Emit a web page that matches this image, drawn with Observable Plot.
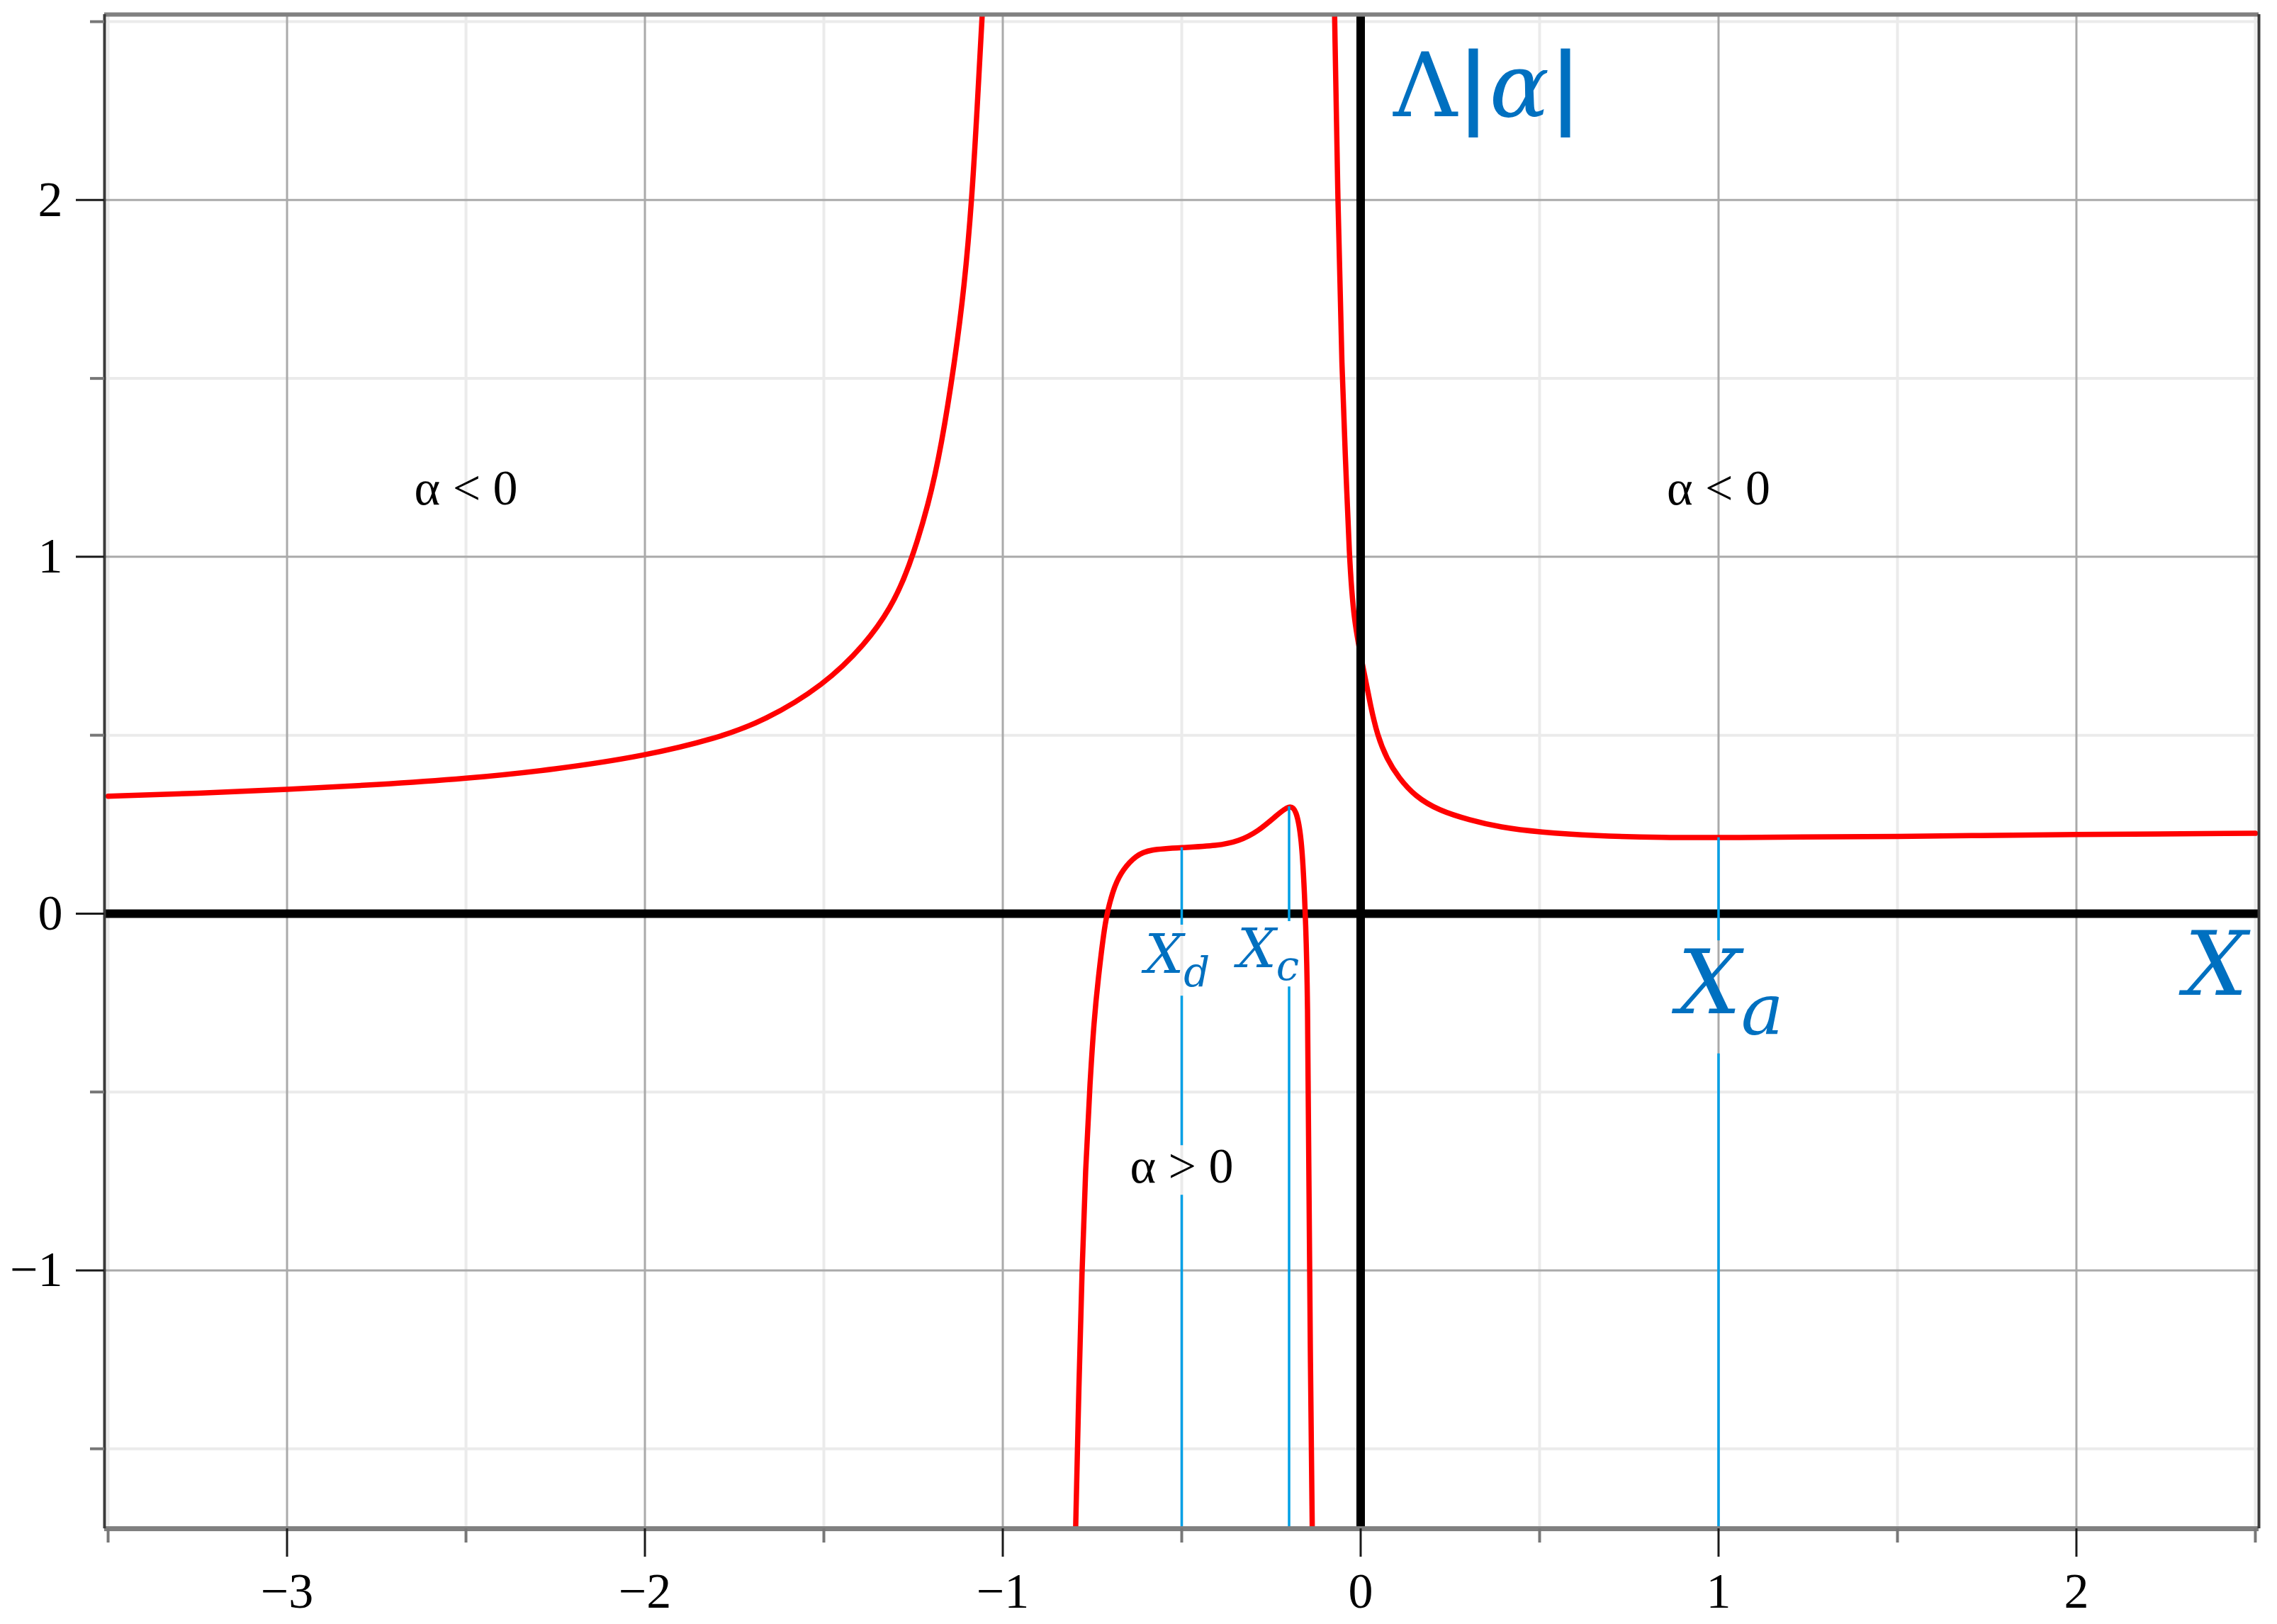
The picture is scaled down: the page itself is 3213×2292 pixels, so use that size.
<!DOCTYPE html>
<html><head><meta charset="utf-8">
<script src="https://cdn.jsdelivr.net/npm/d3@7"></script>
<script src="https://cdn.jsdelivr.net/npm/@observablehq/plot@0.6"></script>
<style>
html,body{margin:0;padding:0;background:#fff;}
#chart{width:3213px;height:2292px;}
</style></head>
<body><div id="chart"></div>
<script>
// ---- data ----
const leftX  = [-3.5, -3.25, -3.0, -2.75, -2.5, -2.25, -2.0, -1.8, -1.666, -1.5, -1.384, -1.313, -1.263, -1.206, -1.171, -1.136, -1.107, -1.086, -1.072, -1.057];
const leftY  = [0.329, 0.337, 0.348, 0.361, 0.378, 0.404, 0.442, 0.491, 0.540, 0.640, 0.755, 0.856, 0.965, 1.15, 1.315, 1.535, 1.759, 2.007, 2.25, 2.53];

const midX = [-0.797, -0.787, -0.779, -0.769, -0.756, -0.745, -0.734, -0.715, -0.703, -0.688, -0.665, -0.628, -0.590, -0.5, -0.400, -0.340, -0.287, -0.234, -0.2, -0.180, -0.165, -0.158, -0.154, -0.148, -0.145, -0.141, -0.135];
const midY = [-1.75, -1.307, -1.011, -0.715, -0.467, -0.300, -0.187, -0.028, 0.024, 0.077, 0.123, 0.163, 0.180, 0.185, 0.190, 0.203, 0.230, 0.276, 0.304, 0.294, 0.210, 0.077, -0.015, -0.22, -0.715, -1.21, -1.75];

const rightX = [-0.073, -0.064, -0.052, -0.042, -0.032, -0.020, 0.012, 0.027, 0.047, 0.073, 0.106, 0.152, 0.218, 0.305, 0.389, 0.5, 0.653, 0.851, 1.0, 1.5, 2.0, 2.5];
const rightY = [2.53, 2.0, 1.5, 1.268, 1.005, 0.82, 0.665, 0.585, 0.498, 0.434, 0.381, 0.329, 0.289, 0.262, 0.242, 0.228, 0.218, 0.213, 0.213, 0.216, 0.222, 0.225];

const xMajorTicks = [-3, -2, -1, 0, 1, 2];
const xMinorTicks = [-3.5, -2.5, -1.5, -0.5, 0.5, 1.5, 2.5];
const yMajorTicks = [-1, 0, 1, 2];
const yMinorTicks = [-1.5, -0.5, 0.5, 1.5, 2.5];
const xDomain = [-3.51, 2.51];
const yDomain = [-1.724, 2.52];

// vertical guide segments (blue), interrupted where the labels sit
const guideX      = [-0.5, -0.5, -0.5, -0.2, -0.2, 1, 1];
const guideTop    = [0.185, -0.231, -0.789, 0.300, -0.205, 0.213, -0.393];
const guideBottom = [-0.032, -0.650, -1.724, -0.022, -1.724, -0.076, -1.724];

const markerNames = ["d", "c", "a"];
const markerX = [-0.5, -0.2, 1];

const regionText = ["α < 0", "α < 0", "α > 0"];
const regionX = [-2.5, 1, -0.5];
const regionY = [1.146, 1.146, -0.753];

const xAxisName = "X";
const yAxisName = "Λ|α|";

// ---- build ----
const pts = (xs, ys) => xs.map((x, i) => ({x, y: ys[i]}));
const guides = guideX.map((x, i) => ({x, y1: guideTop[i], y2: guideBottom[i]}));
const regions = regionText.map((t, i) => ({t, x: regionX[i], y: regionY[i]}));

const RED = "#ff0000", BLUE_LINE = "#00a0e6", BLUE_TEXT = "#0070c0";
const serif = "Liberation Serif", math = "DejaVu Serif";
const fmt = d3.format("d");
const curveOpts = {x: "x", y: "y", stroke: RED, strokeWidth: 7.5, curve: "basis", clip: true, strokeLinejoin: "round"};

const subLabel = (i, fontSize, dx, dy) => Plot.text([markerNames[i]], {
  x: () => markerX[i], y: () => 0, text: d => "X" + d,
  textAnchor: "start", lineAnchor: "bottom", dx, dy,
  fontSize, fontFamily: math, fontStyle: "italic", fill: BLUE_TEXT
});

const chart = Plot.plot({
  width: 3213, height: 2292,
  marginLeft: 147, marginRight: 26, marginTop: 20, marginBottom: 135,
  x: {domain: xDomain, label: null},
  y: {domain: yDomain, label: null},
  style: {background: "#fff", fontFamily: serif},
  marks: [
    Plot.gridX(xMinorTicks, {stroke: "#ebebeb", strokeOpacity: 1, strokeWidth: 4}),
    Plot.gridY(yMinorTicks, {stroke: "#ebebeb", strokeOpacity: 1, strokeWidth: 4}),
    Plot.gridX(xMajorTicks, {stroke: "#aaaaaa", strokeOpacity: 1, strokeWidth: 3}),
    Plot.gridY(yMajorTicks, {stroke: "#aaaaaa", strokeOpacity: 1, strokeWidth: 3}),
    Plot.ruleY([0], {stroke: "#000", strokeWidth: 12}),
    Plot.line(pts(leftX, leftY), curveOpts),
    Plot.line(pts(midX, midY), curveOpts),
    Plot.line(pts(rightX, rightY), curveOpts),
    Plot.ruleX([0], {stroke: "#000", strokeWidth: 12}),
    Plot.ruleX(guides, {x: "x", y1: "y1", y2: "y2", stroke: BLUE_LINE, strokeWidth: 3.5}),
    Plot.ruleY([yDomain[1]], {stroke: "#808080", strokeWidth: 6}),
    Plot.ruleY([yDomain[0]], {stroke: "#808080", strokeWidth: 7}),
    Plot.ruleX([xDomain[0]], {stroke: "#3a3a3a", strokeWidth: 4}),
    Plot.ruleX([xDomain[1]], {stroke: "#3a3a3a", strokeWidth: 4}),
    Plot.axisX(xMinorTicks, {anchor: "bottom", tickSize: 20, stroke: "#777", strokeWidth: 4, tickFormat: () => "", label: null}),
    Plot.axisX(xMajorTicks, {anchor: "bottom", tickSize: 40, tickPadding: 22, stroke: "#1a1a1a", strokeWidth: 3, fill: "#000", fontSize: 70, fontFamily: serif, tickFormat: fmt, label: null}),
    Plot.axisY(yMinorTicks, {anchor: "left", tickSize: 20, stroke: "#777", strokeWidth: 4, tickFormat: () => "", label: null}),
    Plot.axisY(yMajorTicks, {anchor: "left", tickSize: 40, tickPadding: 19, stroke: "#1a1a1a", strokeWidth: 3, fill: "#000", fontSize: 70, fontFamily: serif, tickFormat: fmt, label: null}),
    Plot.text(regions, {x: "x", y: "y", text: "t", textAnchor: "middle", lineAnchor: "bottom", fontSize: 70, fontFamily: serif, fill: "#000"}),
    subLabel(0, 77, -52, 84),
    subLabel(1, 77, -73, 76),
    subLabel(2, 126, -58, 141),
    Plot.text([xAxisName], {x: () => xDomain[1], y: () => 0, text: d => d, textAnchor: "end", lineAnchor: "bottom", dx: -16, dy: 115, fontSize: 125, fontFamily: math, fontStyle: "italic", fill: BLUE_TEXT}),
    Plot.text([yAxisName], {x: () => 0, y: () => yDomain[1], text: d => d, textAnchor: "start", lineAnchor: "bottom", dx: 46, dy: 143, fontSize: 125, fontFamily: math, fill: BLUE_TEXT})
  ]
});

// typeset subscripts and the mixed upright/italic y label as real tspans
const NS = "http://www.w3.org/2000/svg";
const subs = {Xd: [0.75, 19], Xc: [0.75, 18], Xa: [0.8, 30]};
chart.querySelectorAll("text").forEach(t => {
  const s = t.textContent;
  if (subs[s]) {
    const [scale, shift] = subs[s];
    t.textContent = "";
    const a = document.createElementNS(NS, "tspan"); a.textContent = s[0];
    const b = document.createElementNS(NS, "tspan"); b.textContent = s[1];
    b.setAttribute("font-size", scale + "em"); b.setAttribute("dy", shift);
    t.append(a, b);
  } else if (s === yAxisName) {
    t.textContent = "";
    const parts = [["Λ", "normal"], ["|", "normal"], ["α", "italic"], ["|", "normal"]];
    for (const [str, st] of parts) {
      const sp = document.createElementNS(NS, "tspan");
      sp.textContent = str; sp.setAttribute("font-style", st);
      if (str === "|") sp.setAttribute("font-weight", "bold");
      t.append(sp);
    }
  }
});
document.getElementById("chart").append(chart);
</script>
</body></html>
